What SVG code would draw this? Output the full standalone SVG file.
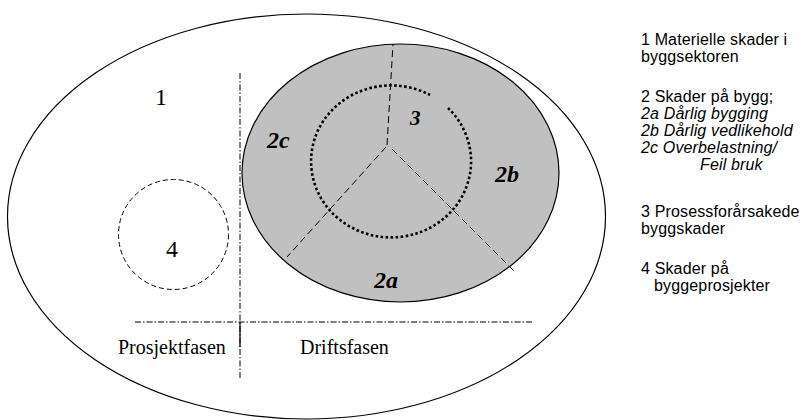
<svg xmlns="http://www.w3.org/2000/svg" width="807" height="420" viewBox="0 0 807 420">
<style>
.ln{fill:none;stroke:#000;stroke-width:1.2}
.dash{fill:none;stroke:#000;stroke-width:1;stroke-dasharray:7 4}
.dashdot{fill:none;stroke:#000;stroke-width:1;stroke-dasharray:6 2 1.5 2}
.big{font-family:"Liberation Serif",serif;font-size:24px}
.lbl{font-family:"Liberation Serif",serif;font-size:24px;font-weight:bold;font-style:italic}
.ph{font-family:"Liberation Serif",serif;font-size:20px}
.leg{font-family:"Liberation Sans",Arial,sans-serif;font-size:16px;letter-spacing:0.15px}
.it{font-style:italic}
</style>
<rect width="807" height="420" fill="#fff"/>
<g id="outer">
<ellipse class="ln" cx="306.5" cy="216.5" rx="299" ry="202.5"/>
<text class="big" x="155" y="105">1</text>
</g>
<g id="bygg">
<ellipse cx="400.5" cy="173" rx="158.5" ry="129" fill="#c0c0c0" stroke="#000" stroke-width="1.2"/>
<text class="lbl" x="267" y="148">2c</text>
<text class="lbl" x="495" y="182">2b</text>
<text class="lbl" x="374" y="288">2a</text>
</g>
<g id="prosess">
<path d="M448,108 A80,76 0 1 1 430,95" fill="none" stroke="#000" stroke-width="2.6" stroke-dasharray="2.6 2.4"/>
<text class="lbl" x="410" y="125" style="font-size:21px">3</text>
</g>
<g id="prosjekt">
<circle cx="173.5" cy="234.5" r="55" fill="none" stroke="#000" stroke-width="1" stroke-dasharray="5 3"/>
<text class="big" x="166" y="257">4</text>
</g>
<g id="connectors">
<path class="dash" d="M387,145 L393,44"/>
<path class="dash" d="M386,147 L287,257"/>
<path class="dash" d="M392,149 L515,272"/>
<path class="dashdot" d="M240,73 L240,378"/>
<path class="ln" d="M240,322 L240,347"/>
<path class="dashdot" d="M135,322 L533,322"/>
</g>
<g id="phases">
<text class="ph" x="118" y="354">Prosjektfasen</text>
<text class="ph" x="300" y="354">Driftsfasen</text>
</g>
<g id="legend" class="leg">
<text x="641" y="45">1 Materielle skader i</text>
<text x="641" y="62">byggsektoren</text>
<text x="641" y="102">2 Skader på bygg;</text>
<text x="641" y="119" class="it">2a Dårlig bygging</text>
<text x="641" y="136" class="it">2b Dårlig vedlikehold</text>
<text x="641" y="153" class="it">2c Overbelastning/</text>
<text x="700" y="170" class="it">Feil bruk</text>
<text x="641" y="217">3 Prosessforårsakede</text>
<text x="641" y="234">byggskader</text>
<text x="641" y="274">4 Skader på</text>
<text x="654" y="291">byggeprosjekter</text>
</g>
</svg>
